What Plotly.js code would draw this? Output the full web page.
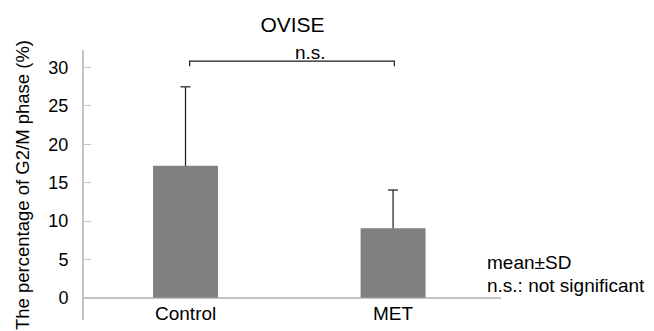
<!DOCTYPE html>
<html>
<head>
<meta charset="utf-8">
<script src="https://cdn.plot.ly/plotly-3.0.1.min.js"></script>
<style>
  html, body { margin: 0; padding: 0; background: #fff; }
  #chart { width: 654px; height: 331px; }
</style>
</head>
<body>
<div id="chart"></div>
<script>
// G2/M phase percentage in OVISE cells, mean ± SD
const groups = ['Control', 'MET'];
const meanValues = [17.2, 9.05];
const sdValues = [10.3, 5.0];
const yTickValues = [0, 5, 10, 15, 20, 25, 30];
const sigLabel = 'n.s.';
const noteLines = ['mean±SD', 'n.s.: not significant'];

const FONT = 'Liberation Sans, Arial, sans-serif';
const AXIS_GREY = '#c4c4c4';
const positions = groups.map((_, i) => i);

// upper-only SD whiskers with a short cap
const capHalf = 0.024;
const whiskX = [], whiskY = [];
positions.forEach((p, i) => {
  const top = meanValues[i] + sdValues[i];
  whiskX.push(p, p, null, p - capHalf, p + capHalf, null);
  whiskY.push(meanValues[i], top, null, top, top, null);
});

const traces = [
  {
    type: 'bar',
    x: positions,
    y: meanValues,
    width: 0.313,
    marker: { color: '#808080', line: { width: 0 } },
    hoverinfo: 'skip'
  },
  {
    type: 'scatter',
    mode: 'lines',
    x: whiskX,
    y: whiskY,
    line: { color: '#1a1a1a', width: 1.2 },
    hoverinfo: 'skip'
  }
];

const annotations = groups.map((g, i) => ({
  x: positions[i], y: -2.0, xref: 'x', yref: 'y',
  text: g, showarrow: false, xanchor: 'center', yanchor: 'middle',
  font: { family: FONT, size: 19, color: '#000' }
}));

annotations.push({
  x: 0.6, y: 32.0, xref: 'x', yref: 'y',
  text: sigLabel, showarrow: false, xanchor: 'center', yanchor: 'middle',
  font: { family: FONT, size: 19, color: '#000' }
});

[4.55, 1.66].forEach((yv, k) => {
  annotations.push({
    x: 0.962, y: yv, xref: 'paper', yref: 'y',
    text: noteLines[k], showarrow: false, xanchor: 'left', yanchor: 'middle',
    font: { family: FONT, size: 19, color: '#000' }
  });
});

const layout = {
  width: 654,
  height: 331,
  margin: { l: 84, r: 153, t: 50, b: 11 },
  paper_bgcolor: '#fff',
  plot_bgcolor: '#fff',
  showlegend: false,
  font: { family: FONT, size: 18, color: '#000' },
  title: {
    text: 'OVISE',
    x: 0.5, xref: 'paper', xanchor: 'center',
    y: 20, yref: 'container', yanchor: 'middle',
    font: { family: FONT, size: 21, color: '#000' }
  },
  xaxis: {
    range: [-0.489, 1.52],
    showgrid: false,
    zeroline: false,
    showline: false,
    showticklabels: false,
    ticks: '',
    fixedrange: true
  },
  yaxis: {
    range: [-2.9, 32.3],
    tickvals: yTickValues,
    showgrid: false,
    zeroline: true,
    zerolinecolor: AXIS_GREY,
    zerolinewidth: 2,
    showline: true,
    linecolor: AXIS_GREY,
    linewidth: 2,
    ticks: 'inside',
    ticklen: 7,
    tickwidth: 1,
    tickcolor: AXIS_GREY,
    ticklabelstandoff: 10,
    tickfont: { family: FONT, size: 18, color: '#000' },
    title: {
      text: 'The percentage of G2/M phase (%)',
      font: { family: FONT, size: 18.5, color: '#000' },
      standoff: 14
    },
    automargin: false,
    fixedrange: true
  },
  shapes: [
    {
      type: 'path', xref: 'x', yref: 'y',
      path: 'M 0.02,30.17 L 0.02,30.86 L 1.006,30.86 L 1.006,30.17',
      line: { color: '#1a1a1a', width: 1.2 }
    }
  ],
  annotations: annotations
};

Plotly.newPlot('chart', traces, layout, { displayModeBar: false, staticPlot: true });
</script>
</body>
</html>
